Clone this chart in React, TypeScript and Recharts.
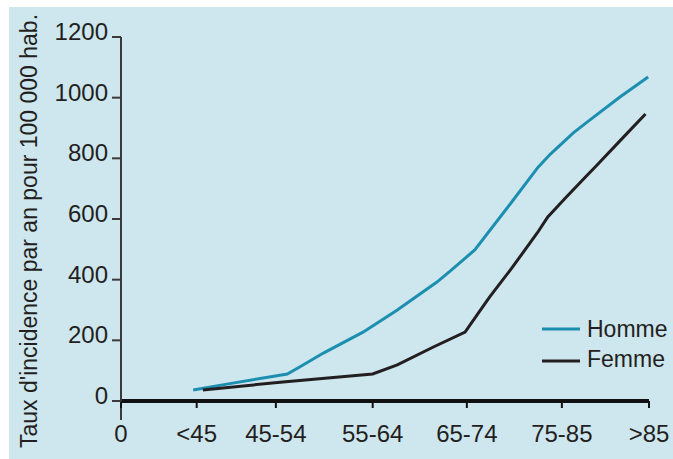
import React from "react";
import { LineChart, Line, XAxis, YAxis, Legend, ReferenceLine } from "recharts";

// age groups on the x axis and where each one sits on the drawn scale
const ageLabels = ["0", "<45", "45-54", "55-64", "65-74", "75-85", ">85"];
const ageTickAt = [0, 0.86, 1.76, 2.86, 3.93, 5.01, 6];

const rateTicks = [0, 200, 400, 600, 800, 1000, 1200];

// Homme: points
const hommeAt = [0.82, 1.27, 1.89, 2.03, 2.3, 2.75, 3.14, 3.59, 3.74, 4.02, 4.44, 4.74, 4.88, 5.14, 5.3, 5.67, 5.99];
const hommeRate = [36, 59, 89, 112, 158, 227, 300, 392, 428, 498, 656, 771, 814, 884, 920, 1002, 1068];

// Femme: points
const femmeAt = [0.93, 1.84, 2.86, 3.14, 3.55, 3.91, 4.11, 4.19, 4.44, 4.73, 4.85, 5.05, 5.3, 5.41, 5.71, 5.96];
const femmeRate = [36, 63, 89, 119, 178, 227, 310, 343, 438, 554, 607, 669, 745, 778, 870, 946];

const hommeData = hommeAt.map((x, i) => ({ x, rate: hommeRate[i] }));
const femmeData = femmeAt.map((x, i) => ({ x, rate: femmeRate[i] }));

const FONT = "'Liberation Sans', Arial, sans-serif";
const INK = "#231f20";
const TEAL = "#1c8fb0";
const BG = "#cee6ee";

function XTick({ x, y, payload }: any) {
  const i = ageTickAt.indexOf(payload.value);
  return (
    <text x={x} y={y} dy={34} textAnchor="middle" fontSize={24} fontFamily={FONT} fill={INK}>
      {ageLabels[i]}
    </text>
  );
}

function YTick({ x, y, payload }: any) {
  return (
    <text x={x} y={y} dy={3} textAnchor="end" fontSize={24} fontFamily={FONT} fill={INK}>
      {payload.value}
    </text>
  );
}

function LegendBox() {
  return (
    <svg width={131} height={64} style={{ display: "block" }}>
      <line x1={0} y1={17} x2={38} y2={17} stroke={TEAL} strokeWidth={3} />
      <text x={45} y={25} fontSize={23} fontFamily={FONT} fill={INK}>Homme</text>
      <line x1={0} y1={49} x2={38} y2={49} stroke={INK} strokeWidth={3} />
      <text x={45} y={55} fontSize={23} fontFamily={FONT} fill={INK}>Femme</text>
    </svg>
  );
}

function YTitle() {
  return (
    <text
      x={37}
      y={448}
      transform="rotate(-90, 37, 448)"
      fontSize={23}
      fontFamily={FONT}
      fill={INK}
    >
      Taux d'incidence par an pour 100 000 hab.
    </text>
  );
}

export default function App() {
  return (
    <div style={{ position: "absolute", left: 0, top: 0, width: 673, height: 459, background: "#fff", overflow: "hidden" }}>
      <div style={{ position: "absolute", left: 9, top: 7, right: 0, bottom: 0, background: BG }} />
      <LineChart
        width={673}
        height={459}
        margin={{ top: 37, right: 24, bottom: 0, left: 61 }}
        style={{ position: "absolute", left: 0, top: 0 }}
      >
        <XAxis
          dataKey="x"
          type="number"
          domain={[0, 6]}
          ticks={ageTickAt}
          height={58}
          tickSize={7}
          tickMargin={0}
          axisLine={{ stroke: "#111", strokeWidth: 4 }}
          tickLine={{ stroke: "#111", strokeWidth: 2 }}
          tick={<XTick />}
          interval={0}
          allowDataOverflow
        />
        <YAxis
          type="number"
          domain={[0, 1200]}
          ticks={rateTicks}
          width={60}
          tickSize={9}
          tickMargin={4}
          axisLine={{ stroke: "#3a3a3a", strokeWidth: 2 }}
          tickLine={{ stroke: "#3a3a3a", strokeWidth: 2 }}
          tick={<YTick />}
          interval={0}
          label={{ content: () => <YTitle /> }}
        />
        <ReferenceLine
          segment={[{ x: 0, y: 0 }, { x: 0, y: -63 }]}
          ifOverflow="visible"
          stroke="#3a3a3a"
          strokeWidth={2}
        />
        <Legend
          layout="vertical"
          align="center"
          verticalAlign="middle"
          content={() => <LegendBox />}
          wrapperStyle={{ position: "absolute", left: 542, top: 312, width: 131, height: 64 }}
        />
        <Line
          data={hommeData}
          dataKey="rate"
          name="Homme"
          type="linear"
          stroke={TEAL}
          strokeWidth={3}
          dot={false}
          isAnimationActive={false}
        />
        <Line
          data={femmeData}
          dataKey="rate"
          name="Femme"
          type="linear"
          stroke={INK}
          strokeWidth={3}
          dot={false}
          isAnimationActive={false}
        />
      </LineChart>
    </div>
  );
}
